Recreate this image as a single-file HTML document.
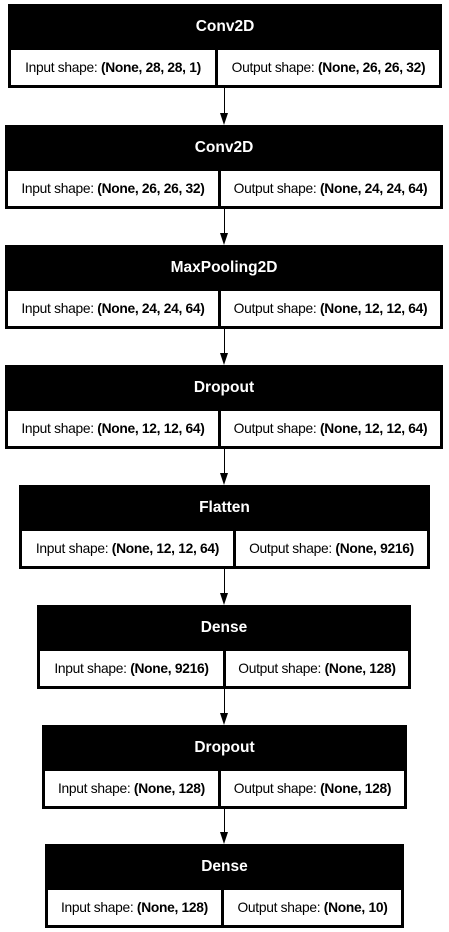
<!DOCTYPE html>
<html><head><meta charset="utf-8"><style>
body{margin:0;width:449px;height:932px;background:#fff;position:relative;overflow:hidden;font-family:"Liberation Sans",Arial,sans-serif}
.b{position:absolute;background:#000;height:84px}
.h{position:absolute;left:0;right:0;top:0;height:45px;line-height:45px;text-align:center;color:#fff;font-weight:bold;font-size:15.5px}
.c{position:absolute;top:46px;height:35px;line-height:35px;background:#fff;text-align:center;font-size:13.8px;color:#000;white-space:nowrap;letter-spacing:-0.3px}
.c b{font-weight:bold}
.l{position:absolute;left:223.5px;width:1.5px;background:#000}
.a{position:absolute;left:219.5px;width:0;height:0;border-left:4.5px solid transparent;border-right:4.5px solid transparent;border-top:12px solid #000}
</style></head><body>
<div class="b" style="top:4px;left:8px;width:434px"><div class="h">Conv2D</div><div class="c" style="left:3px;width:204px">Input shape: <b>(None, 28, 28, 1)</b></div><div class="c" style="left:210px;width:221px">Output shape: <b>(None, 26, 26, 32)</b></div></div>
<div class="b" style="top:125px;left:5px;width:438px"><div class="h">Conv2D</div><div class="c" style="left:3px;width:210px">Input shape: <b>(None, 26, 26, 32)</b></div><div class="c" style="left:216px;width:219px">Output shape: <b>(None, 24, 24, 64)</b></div></div>
<div class="b" style="top:245px;left:5px;width:438px"><div class="h">MaxPooling2D</div><div class="c" style="left:3px;width:210px">Input shape: <b>(None, 24, 24, 64)</b></div><div class="c" style="left:216px;width:219px">Output shape: <b>(None, 12, 12, 64)</b></div></div>
<div class="b" style="top:365px;left:5px;width:438px"><div class="h">Dropout</div><div class="c" style="left:3px;width:210px">Input shape: <b>(None, 12, 12, 64)</b></div><div class="c" style="left:216px;width:219px">Output shape: <b>(None, 12, 12, 64)</b></div></div>
<div class="b" style="top:485px;left:19px;width:411px"><div class="h">Flatten</div><div class="c" style="left:3px;width:211px">Input shape: <b>(None, 12, 12, 64)</b></div><div class="c" style="left:217px;width:191px">Output shape: <b>(None, 9216)</b></div></div>
<div class="b" style="top:605px;left:37px;width:374px"><div class="h">Dense</div><div class="c" style="left:3px;width:183px">Input shape: <b>(None, 9216)</b></div><div class="c" style="left:189px;width:182px">Output shape: <b>(None, 128)</b></div></div>
<div class="b" style="top:725px;left:42px;width:365px"><div class="h">Dropout</div><div class="c" style="left:3px;width:173px">Input shape: <b>(None, 128)</b></div><div class="c" style="left:179px;width:183px">Output shape: <b>(None, 128)</b></div></div>
<div class="b" style="top:844px;left:45px;width:359px"><div class="h">Dense</div><div class="c" style="left:3px;width:173px">Input shape: <b>(None, 128)</b></div><div class="c" style="left:179px;width:177px">Output shape: <b>(None, 10)</b></div></div>

<div class="l" style="top:88px;height:26px"></div><div class="a" style="top:113px"></div>
<div class="l" style="top:209px;height:25px"></div><div class="a" style="top:233px"></div>
<div class="l" style="top:329px;height:25px"></div><div class="a" style="top:353px"></div>
<div class="l" style="top:449px;height:25px"></div><div class="a" style="top:473px"></div>
<div class="l" style="top:569px;height:25px"></div><div class="a" style="top:593px"></div>
<div class="l" style="top:689px;height:25px"></div><div class="a" style="top:713px"></div>
<div class="l" style="top:809px;height:24px"></div><div class="a" style="top:832px"></div>
</body></html>
